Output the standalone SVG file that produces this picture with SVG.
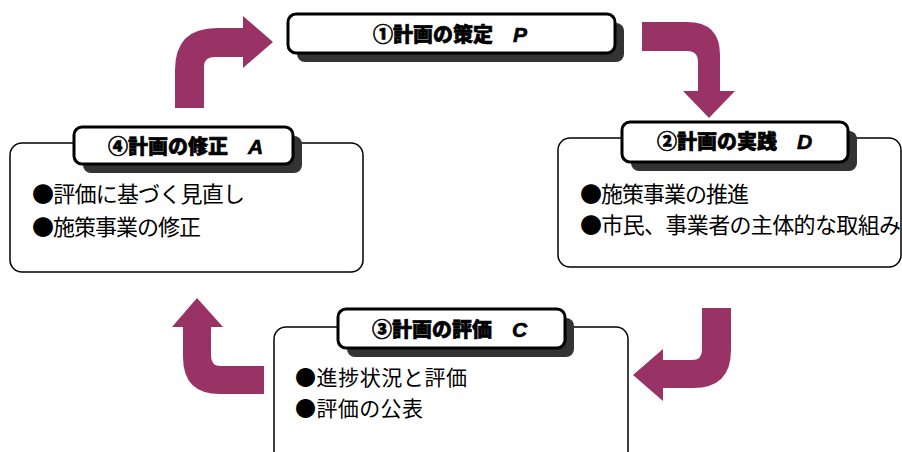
<svg xmlns="http://www.w3.org/2000/svg" width="902" height="452" viewBox="0 0 902 452">
<defs>
<style>
.panel{fill:#fff;stroke:#000;stroke-width:1.5}
.shadow{fill:#333}
.label{fill:#fff;stroke:#000;stroke-width:3}
.lt{font-family:"Noto Sans CJK JP","Noto Sans",sans-serif;font-weight:900;font-size:20px;fill:#000;stroke:#000;stroke-width:0.6}
.ltr{font-family:"Liberation Sans",sans-serif;font-style:italic;font-weight:700;font-size:21px}
.bt{font-family:"Noto Sans CJK JP","Noto Sans",sans-serif;font-size:22px;fill:#000}
.bs{font-size:21px}
.arrow{fill:#993366}
</style>
</defs>
<rect width="902" height="452" fill="#fff"/>
<g id="connectors">
<path class="arrow" d="M175,108 L175,70 Q175,28 217,28 L243,28 L243,16 L273,42 L243,68 L243,57 L214,57 Q204,57 204,67 L204,108 Z"/>
<path class="arrow" d="M642,22 L687,22 Q720,22 720,55 L720,91 L735,91 L709,118 L683,91 L698,91 L698,62 Q698,51 687,51 L642,51 Z"/>
<path class="arrow" d="M702,308 L731,308 L731,350 Q731,388 693,388 L663,388 L663,401 L633,375 L663,349 L663,360 L692,360 Q702,360 702,350 Z"/>
<path class="arrow" d="M264,366 L264,394 L220,394 Q183,394 183,357 L183,327 L172,327 L197,298 L223,327 L211,327 L211,356 Q211,366 221,366 Z"/>
</g>
<g id="node-plan">
<rect class="shadow" x="297" y="23" width="327" height="39" rx="8"/>
<rect class="label" x="288" y="14" width="327" height="39" rx="8"/>
<text class="lt" x="373" y="42">①計画の策定　<tspan class="ltr">P</tspan></text>
</g>
<g id="node-do">
<rect class="panel" x="558" y="138" width="343" height="129" rx="12"/>
<rect class="shadow" x="631" y="131" width="226" height="40" rx="8"/>
<rect class="label" x="622" y="122" width="226" height="40" rx="8"/>
<text class="lt" x="657" y="149">②計画の実践　<tspan class="ltr">D</tspan></text>
<text class="bt" x="580" y="201.5" textLength="169" lengthAdjust="spacing">●施策事業の推進</text>
<text class="bt" x="580" y="232.5" textLength="321" lengthAdjust="spacing">●市民、事業者の主体的な取組み</text>
</g>
<g id="node-check">
<rect class="panel" x="274" y="327" width="354" height="140" rx="12"/>
<rect class="shadow" x="347" y="318" width="227" height="39" rx="8"/>
<rect class="label" x="338" y="309" width="227" height="39" rx="8"/>
<text class="lt" x="372" y="337">③計画の評価　<tspan class="ltr">C</tspan></text>
<text class="bt bs" x="295" y="384.5" textLength="172" lengthAdjust="spacing">●進捗状況と評価</text>
<text class="bt bs" x="295" y="416" textLength="128" lengthAdjust="spacing">●評価の公表</text>
</g>
<g id="node-act">
<rect class="panel" x="10" y="143" width="353" height="129" rx="12"/>
<rect class="shadow" x="83" y="136" width="219" height="37" rx="8"/>
<rect class="label" x="74" y="127" width="219" height="37" rx="8"/>
<text class="lt" x="108" y="154">④計画の修正　<tspan class="ltr">A</tspan></text>
<text class="bt" x="32" y="202" textLength="213" lengthAdjust="spacing">●評価に基づく見直し</text>
<text class="bt" x="32" y="235" textLength="169" lengthAdjust="spacing">●施策事業の修正</text>
</g>
</svg>
